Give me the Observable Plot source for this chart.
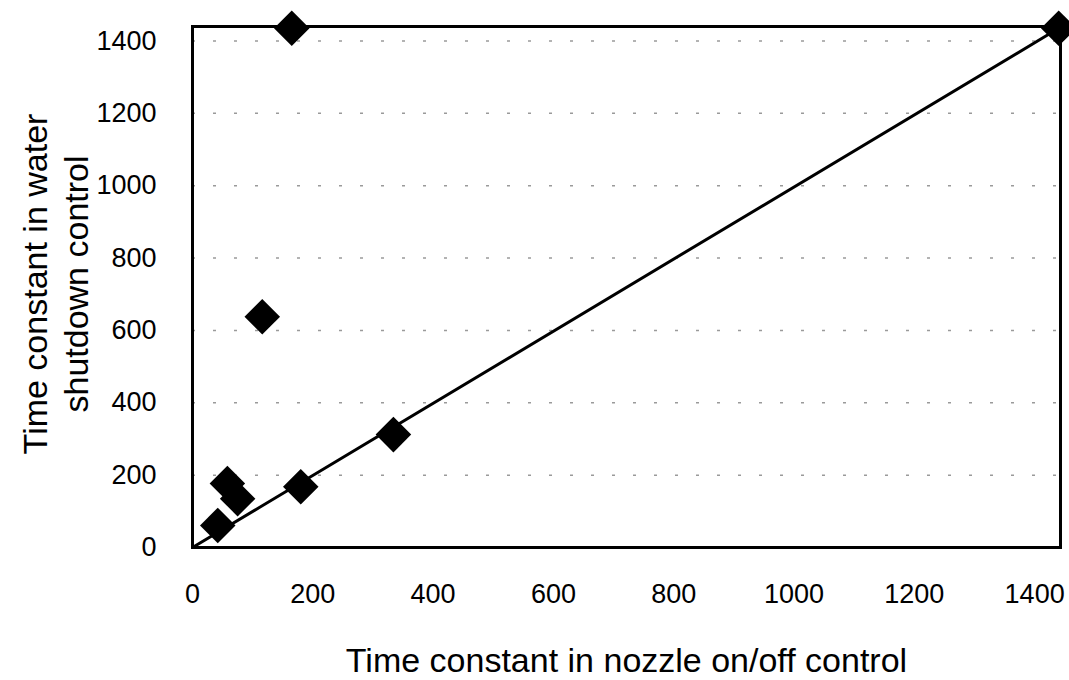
<!DOCTYPE html>
<html>
<head>
<meta charset="utf-8">
<script src="https://cdn.jsdelivr.net/npm/d3@7"></script>
<script src="https://cdn.jsdelivr.net/npm/@observablehq/plot@0.6"></script>
<style>
  html, body { margin: 0; padding: 0; background: #fff; }
  #chart { width: 1069px; height: 680px; }
</style>
</head>
<body>
<div id="chart"></div>
<script>
// Data
const nozzleOnOff   = [42, 58, 75, 180, 334, 116, 165, 1440];
const waterShutdown = [61, 177, 135, 168, 312, 638, 1435, 1435];
const lineX = [0, 1440];
const lineY = [0, 1435];
const xTicks = [0, 200, 400, 600, 800, 1000, 1200, 1400];
const yTicks = [0, 200, 400, 600, 800, 1000, 1200, 1400];
const gridValues = [200, 400, 600, 800, 1000, 1200, 1400];
const xTitle = "Time constant in nozzle on/off control";
const yTitle = "Time constant in water\nshutdown control";

const points = nozzleOnOff.map((x, i) => ({x, y: waterShutdown[i]}));
const fitLine = lineX.map((x, i) => ({x, y: lineY[i]}));

const font = "'Liberation Sans', Arial, Helvetica, sans-serif";

const chart = Plot.plot({
  width: 1069,
  height: 680,
  marginLeft: 192,
  marginRight: 9,
  marginTop: 26,
  marginBottom: 133,
  style: { background: "#fff", fontFamily: font, color: "#000" },
  x: { domain: [0, 1443] },
  y: { domain: [0, 1440] },
  marks: [
    Plot.ruleY(gridValues, { stroke: "#9a9a9a", strokeWidth: 1.5, strokeDasharray: "3,18" }),
    Plot.frame({ stroke: "#000", strokeWidth: 3 }),
    Plot.line(fitLine, { x: "x", y: "y", stroke: "#000", strokeWidth: 3 }),
    Plot.dot(points, { x: "x", y: "y", symbol: "diamond2", r: 16, fill: "#000", stroke: "none" }),
    Plot.axisX({ ticks: xTicks, tickFormat: "d", tickSize: 0, tickPadding: 36, fontSize: 27, label: null }),
    Plot.axisY({ ticks: yTicks, tickFormat: "d", tickSize: 0, tickPadding: 36, fontSize: 27, label: null }),
    Plot.text([xTitle], { frameAnchor: "bottom", dy: 114, lineAnchor: "middle", fontSize: 34, fill: "#000" }),
    Plot.text([yTitle], { frameAnchor: "left", dx: -138, dy: -3, rotate: -90, textAnchor: "middle", lineAnchor: "middle", lineHeight: 1.2, fontSize: 34, fill: "#000" })
  ]
});
document.getElementById("chart").appendChild(chart);
</script>
</body>
</html>
